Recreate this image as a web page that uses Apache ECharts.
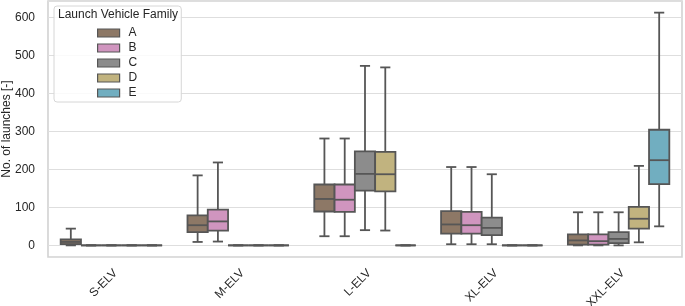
<!DOCTYPE html>
<html>
<head>
<meta charset="utf-8">
<script src="https://cdn.jsdelivr.net/npm/echarts@6/dist/echarts.min.js"></script>
<style>
  html, body { margin: 0; padding: 0; background: #fff; }
  #chart { width: 685px; height: 306px; }
</style>
</head>
<body>
<div id="chart"></div>
<script>
// launch vehicle classes on the x axis
const categories = ["S-ELV", "M-ELV", "L-ELV", "XL-ELV", "XXL-ELV"];
const families = ["A", "B", "C", "D", "E"];
const colors = ["#8d7866", "#d095bf", "#8c8c8c", "#c1b37f", "#71aec0"];

// each entry: [low whisker, q1, median, q3, high whisker]
const famA = [[0, 3, 9, 16, 44], [9, 35, 53, 79, 184], [24, 89, 122, 160, 281], [3, 31, 55, 90, 206], [0, 2, 13, 29, 87]];
const famB = [[0, 0, 0, 0, 0], [10, 39, 63, 94, 218], [24, 88, 120, 160, 281], [3, 31, 53, 88, 206], [0, 2, 11, 29, 87]];
const famC = [[0, 0, 0, 0, 0], [0, 0, 0, 0, 0], [40, 144, 188, 247, 472], [3, 27, 46, 73, 187], [0, 6, 17, 35, 87]];
const famD = [[0, 0, 0, 0, 0], [0, 0, 0, 0, 0], [39, 142, 187, 246, 468], [0, 0, 0, 0, 0], [8, 44, 70, 101, 209]];
const famE = [[0, 0, 0, 0, 0], [0, 0, 0, 0, 0], [0, 0, 0, 0, 0], [0, 0, 0, 0, 0], [50, 161, 224, 304, 612]];
const allFams = [famA, famB, famC, famD, famE];

const lineColor = "#565656";
const slot = 0.16; // share of a category band per box

function makeRender(hueIdx, color) {
  return function (params, api) {
    const cat = api.value(0);
    const bw = api.size([1, 0])[0];
    const w = bw * slot;
    const cx = api.coord([cat, 0])[0] + (hueIdx - 2) * w;
    const yLow = api.coord([cat, api.value(1)])[1];
    const yQ1 = api.coord([cat, api.value(2)])[1];
    const yMed = api.coord([cat, api.value(3)])[1];
    const yQ3 = api.coord([cat, api.value(4)])[1];
    const yHigh = api.coord([cat, api.value(5)])[1];
    const ls = { stroke: lineColor, lineWidth: 1.8 };
    const cap = w / 4;
    return {
      type: "group",
      children: [
        { type: "line", shape: { x1: cx, y1: yQ3, x2: cx, y2: yHigh }, style: ls },
        { type: "line", shape: { x1: cx, y1: yQ1, x2: cx, y2: yLow }, style: ls },
        { type: "line", shape: { x1: cx - cap, y1: yHigh, x2: cx + cap, y2: yHigh }, style: ls },
        { type: "line", shape: { x1: cx - cap, y1: yLow, x2: cx + cap, y2: yLow }, style: ls },
        {
          type: "rect",
          shape: { x: cx - w / 2, y: yQ3, width: w, height: yQ1 - yQ3 },
          style: { fill: color, stroke: lineColor, lineWidth: 1.8 }
        },
        { type: "line", shape: { x1: cx - w / 2, y1: yMed, x2: cx + w / 2, y2: yMed }, style: ls }
      ]
    };
  };
}

const chart = echarts.init(document.getElementById("chart"));
const series = families.map((name, i) => ({
  name: name,
  type: "custom",
  renderItem: makeRender(i, colors[i]),
  itemStyle: { color: colors[i], borderColor: lineColor, borderWidth: 1.2 },
  encode: { x: 0, y: [1, 2, 3, 4, 5] },
  data: allFams[i].map((d, c) => [c].concat(d))
}));

const option = {
  animation: false,
  textStyle: { fontFamily: "Liberation Sans, Arial, sans-serif" },
  title: {
    text: "Launch Vehicle Family",
    left: 58,
    top: 9,
    padding: 0,
    textStyle: { fontSize: 12, fontWeight: "normal", color: "#262626" }
  },
  legend: {
    orient: "vertical",
    left: 54,
    top: 6,
    padding: [20, 44, 2, 43],
    itemWidth: 22,
    itemHeight: 8,
    itemGap: 1,
    icon: "rect",
    borderColor: "#d6d6d6",
    borderWidth: 1,
    borderRadius: 3,
    backgroundColor: "rgba(255,255,255,0.85)",
    textStyle: { fontSize: 12, color: "#262626", lineHeight: 14, padding: [0, 0, 0, 4] },
    data: families.map((n, i) => ({
      name: n,
      itemStyle: { color: colors[i], borderColor: lineColor, borderWidth: 1.2 }
    }))
  },
  grid: {
    left: 48, right: 3, top: 1, bottom: 49,
    outerBoundsMode: "none",
    show: true,
    borderColor: "#d2d2d2",
    borderWidth: 1.6
  },
  xAxis: {
    type: "category",
    data: categories,
    boundaryGap: true,
    axisLine: { show: false },
    axisTick: { show: false },
    axisLabel: {
      rotate: 45, fontSize: 12, color: "#262626", margin: 10,
      align: "right", verticalAlign: "top"
    }
  },
  yAxis: {
    type: "value",
    min: -30.6,
    max: 642.6,
    splitNumber: 6,
    name: "No. of launches [-]",
    nameLocation: "middle",
    nameGap: 35,
    nameMoveOverlap: false,
    nameTextStyle: { fontSize: 12, color: "#262626" },
    axisLine: { show: false },
    axisTick: { show: false },
    axisLabel: {
      fontSize: 12,
      color: "#262626",
      margin: 13,
      formatter: v => (Math.abs(v % 100) < 1e-6 ? String(v) : "")
    },
    splitLine: { lineStyle: { color: "#dedede", width: 1.2 } }
  },
  series: series
};
chart.setOption(option);
</script>
</body>
</html>
